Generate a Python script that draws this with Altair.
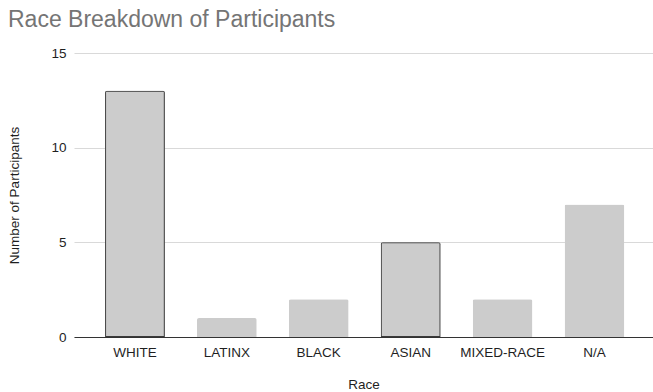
import altair as alt
import pandas as pd

races = ["WHITE", "LATINX", "BLACK", "ASIAN", "MIXED-RACE", "N/A"]
counts = [13, 1, 2, 5, 2, 7]
outlined = [True, False, False, True, False, False]

df = pd.DataFrame({"race": races, "count": counts, "outlined": outlined})

FONT = "Liberation Sans"
TXT = "#1f1f1f"

chart = alt.Chart(df).mark_bar(
    color="#cccccc",
    cornerRadiusTopLeft=2,
    cornerRadiusTopRight=2,
).encode(
    x=alt.X("race:N", sort=races, title="Race",
            scale=alt.Scale(paddingInner=0.35, paddingOuter=0.325, align=0.52),
            axis=alt.Axis(labelAngle=0, ticks=False, domain=True, domainColor="#333333",
                          domainWidth=1, labelPadding=8, titlePadding=19,
                          labelFontSize=13.5, titleFontSize=13.5, labelColor=TXT,
                          titleColor=TXT, titleFontWeight="normal",
                          labelFont=FONT, titleFont=FONT, grid=False)),
    y=alt.Y("count:Q", title="Number of Participants",
            scale=alt.Scale(domain=[0, 15]),
            axis=alt.Axis(values=[0, 5, 10, 15], ticks=False, domain=False,
                          gridColor="#d9d9d9", gridWidth=1, labelPadding=8,
                          labelFontSize=13.5, titleFontSize=13.5, labelColor=TXT,
                          titleColor=TXT, titleFontWeight="normal",
                          labelFont=FONT, titleFont=FONT, titlePadding=29)),
    stroke=alt.condition("datum.outlined", alt.value("#3a3a3a"), alt.value(None)),
    strokeWidth=alt.condition("datum.outlined", alt.value(2), alt.value(0)),
).properties(
    width=579,
    height=284,
    title=alt.TitleParams("Race Breakdown of Participants", anchor="start",
                          fontSize=23, font=FONT, color="#757575", fontWeight="normal",
                          offset=14),
    autosize=alt.AutoSizeParams(type="none"),
    padding={"left": 74, "top": 53, "right": 0, "bottom": 55},
).configure_view(stroke=None)

chart.save("out.html", embed_options={"renderer": "svg", "actions": False})
